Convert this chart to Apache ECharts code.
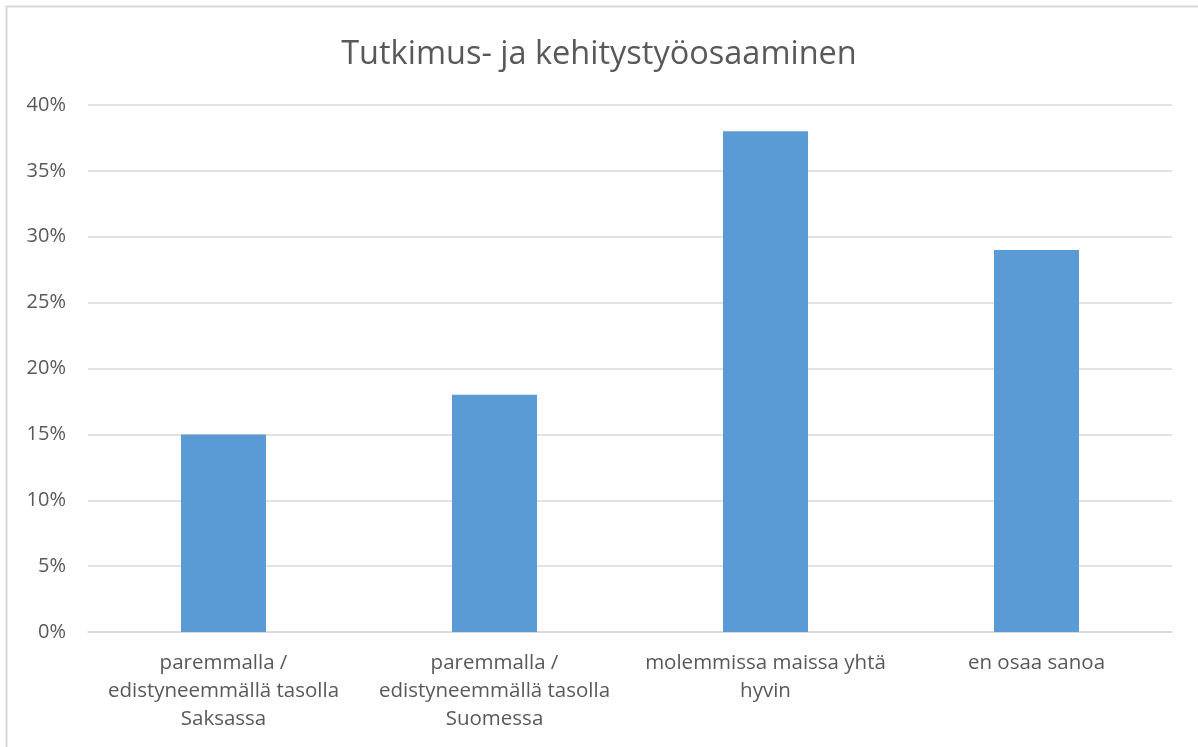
<!DOCTYPE html>
<html>
<head>
<meta charset="utf-8">
<script src="https://cdn.jsdelivr.net/npm/echarts@6/dist/echarts.min.js"></script>
<style>
  html, body { margin: 0; padding: 0; background: #fff; }
  #main { width: 1198px; height: 747px; }
</style>
</head>
<body>
<div id="main"></div>
<script>
var categories = [
    'paremmalla /\nedistyneemmällä tasolla\nSaksassa',
    'paremmalla /\nedistyneemmällä tasolla\nSuomessa',
    'molemmissa maissa yhtä\nhyvin',
    'en osaa sanoa'
];
var values = [15, 18, 38, 29];

var chart = echarts.init(document.getElementById('main'));
var option = {
    textStyle: { fontFamily: '"Open Sans", sans-serif' },
    graphic: [{
        type: 'rect',
        shape: { x: 6.5, y: 6.5, width: 1300, height: 900 },
        style: { fill: 'none', stroke: '#d9d9d9', lineWidth: 2 },
        silent: true
    }],
    title: {
        text: 'Tutkimus- ja kehitystyöosaaminen',
        left: 'center',
        top: 33,
        textStyle: { fontSize: 32.5, fontWeight: 'normal', color: '#595959' }
    },
    grid: { left: 88, right: 26, top: 105, bottom: 115 },
    xAxis: {
        type: 'category',
        data: categories,
        axisLine: { lineStyle: { color: '#d9d9d9', width: 1.5 } },
        axisTick: { show: false },
        axisLabel: {
            color: '#595959',
            fontSize: 20.5,
            lineHeight: 28,
            margin: 17,
            interval: 0
        }
    },
    yAxis: {
        type: 'value',
        min: 0,
        max: 40,
        interval: 5,
        axisLine: { show: false },
        axisTick: { show: false },
        splitLine: { lineStyle: { color: '#d9d9d9', width: 1.5 } },
        axisLabel: {
            color: '#595959',
            fontSize: 20,
            margin: 22,
            formatter: '{value}%'
        }
    },
    series: [{
        type: 'bar',
        data: values,
        barWidth: 85,
        itemStyle: { color: '#5b9bd5' }
    }]
};
chart.setOption(option);
</script>
</body>
</html>
